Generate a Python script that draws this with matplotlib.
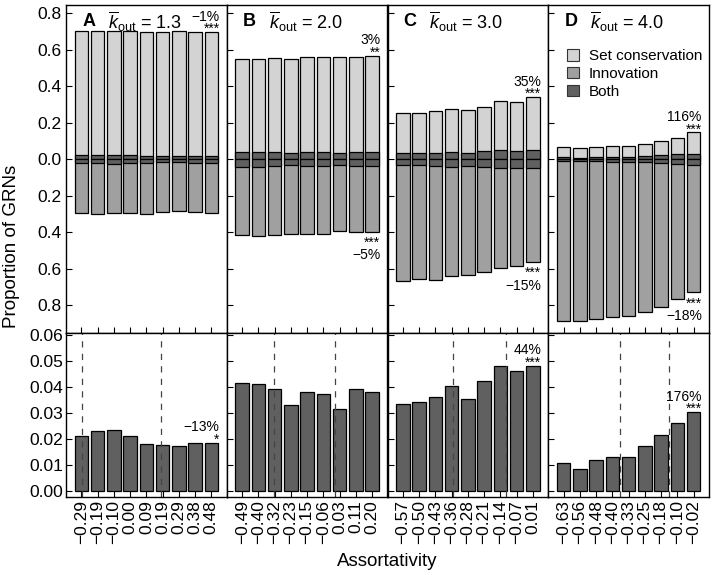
import numpy as np
import matplotlib.pyplot as plt
from matplotlib.patches import Patch

plt.rcParams['font.family'] = ['Liberation Sans', 'DejaVu Sans']
plt.rcParams['mathtext.fontset'] = 'custom'
plt.rcParams['mathtext.rm'] = 'Liberation Sans'
plt.rcParams['mathtext.it'] = 'Liberation Sans:italic'

panels = ["A", "B", "C", "D"]
kout = ["1.3", "2.0", "3.0", "4.0"]

assort = [
    ["\u22120.29", "\u22120.19", "\u22120.10", "0.00", "0.09", "0.19", "0.29", "0.38", "0.48"],
    ["\u22120.49", "\u22120.40", "\u22120.32", "\u22120.23", "\u22120.15", "\u22120.06", "0.03", "0.11", "0.20"],
    ["\u22120.57", "\u22120.50", "\u22120.43", "\u22120.36", "\u22120.28", "\u22120.21", "\u22120.14", "\u22120.07", "0.01"],
    ["\u22120.63", "\u22120.56", "\u22120.48", "\u22120.40", "\u22120.33", "\u22120.25", "\u22120.18", "\u22120.10", "\u22120.02"],
]

# proportion of GRNs with set conservation (upwards)
conservation = [
    [0.704, 0.703, 0.703, 0.701, 0.697, 0.697, 0.700, 0.697, 0.697],
    [0.550, 0.551, 0.553, 0.550, 0.559, 0.559, 0.562, 0.561, 0.568],
    [0.254, 0.254, 0.263, 0.274, 0.272, 0.287, 0.319, 0.316, 0.341],
    [0.069, 0.060, 0.067, 0.073, 0.073, 0.082, 0.099, 0.118, 0.148],
]
# proportion of GRNs with innovation (downwards)
innovation = [
    [0.293, 0.298, 0.296, 0.296, 0.298, 0.290, 0.285, 0.289, 0.293],
    [0.416, 0.420, 0.413, 0.411, 0.408, 0.408, 0.393, 0.400, 0.398],
    [0.667, 0.658, 0.661, 0.639, 0.632, 0.619, 0.594, 0.583, 0.563],
    [0.884, 0.884, 0.875, 0.862, 0.859, 0.835, 0.810, 0.764, 0.729],
]
# proportion of GRNs with both
both = [
    [0.0214, 0.0232, 0.0235, 0.0211, 0.0181, 0.0177, 0.0173, 0.0187, 0.0187],
    [0.0417, 0.0412, 0.0391, 0.0330, 0.0383, 0.0372, 0.0315, 0.0393, 0.0383],
    [0.0337, 0.0342, 0.0364, 0.0403, 0.0356, 0.0424, 0.0481, 0.0462, 0.0483],
    [0.0110, 0.0086, 0.0119, 0.0130, 0.0130, 0.0173, 0.0217, 0.0262, 0.0305],
]

cons_note = ["\u22121%\n***", "3%\n**", "35%\n***", "116%\n***"]
innov_note = [None, "***\n\u22125%", "***\n\u221215%", "***\n\u221218%"]
both_note = ["\u221213%\n*", None, "44%\n***", "176%\n***"]

# dashed reference lines (in bar index units)
dashed = [[0.04, 4.875], [1.97, 5.72], [3.11, 6.36], [3.48, 6.48]]

c_light = "#d3d3d3"
c_mid = "#a0a0a0"
c_dark = "#606060"

fig = plt.figure(figsize=(7.14, 5.75), dpi=100)

left = 66 / 714
colw = (709 - 66) / 714 / 4
top_b = 1 - 333 / 575
top_h = (333 - 5) / 575
bot_b = 1 - 497 / 575
bot_h = (497 - 333) / 575

x = np.arange(9)
w = 0.84
ew = 0.9

for i in range(4):
    ax = fig.add_axes([left + i * colw, top_b, colw, top_h])
    axb = fig.add_axes([left + i * colw, bot_b, colw, bot_h])

    cons = np.array(conservation[i])
    inn = np.array(innovation[i])
    bo = np.array(both[i])

    ax.bar(x, cons, w, color=c_light, edgecolor="black", linewidth=ew)
    ax.bar(x, -inn, w, color=c_mid, edgecolor="black", linewidth=ew)
    ax.bar(x, bo, w, color=c_dark, edgecolor="black", linewidth=ew)
    ax.bar(x, -bo, w, color=c_dark, edgecolor="black", linewidth=ew)

    ax.set_xlim(-0.95, 8.95)
    ax.set_ylim(-0.952, 0.845)
    yt = np.arange(-0.8, 0.81, 0.2)
    ax.set_yticks(yt)
    if i == 0:
        ax.set_yticklabels(["%.1f" % abs(v) for v in yt])
    else:
        ax.set_yticklabels([])
    ax.set_xticks(x)
    ax.set_xticklabels([])
    ax.tick_params(direction="in", length=4, labelsize=12.5, width=0.8)

    ax.text(0.1, 0.975, panels[i], transform=ax.transAxes, fontsize=13,
            fontweight="bold", va="top", ha="left")
    ax.text(0.26, 0.985, r"$\overline{k}_\mathrm{out}$ = " + kout[i],
            transform=ax.transAxes, fontsize=13, va="top", ha="left")

    if cons_note[i]:
        ax.annotate(cons_note[i], xy=(8 + w / 2, cons[-1]), xytext=(1, -3),
                    textcoords="offset points", ha="right", va="bottom",
                    fontsize=10, linespacing=0.85, multialignment="right")
    if innov_note[i]:
        ax.annotate(innov_note[i], xy=(8 + w / 2, -inn[-1]), xytext=(1, -3),
                    textcoords="offset points", ha="right", va="top",
                    fontsize=10, linespacing=0.85, multialignment="right")

    if i == 3:
        handles = [Patch(facecolor=c_light, edgecolor="#333333", linewidth=0.8),
                   Patch(facecolor=c_mid, edgecolor="#333333", linewidth=0.8),
                   Patch(facecolor=c_dark, edgecolor="#333333", linewidth=0.8)]
        ax.legend(handles, ["Set conservation", "Innovation", "Both"],
                  loc="upper left", bbox_to_anchor=(0.08, 0.885), frameon=False,
                  fontsize=11, handlelength=0.8, handleheight=0.8,
                  handletextpad=0.6, labelspacing=0.25, borderaxespad=0)

    axb.bar(x, bo, w, color=c_dark, edgecolor="black", linewidth=ew)
    for d in dashed[i]:
        axb.axvline(d, color="#444444", linestyle=(0, (5, 5)), linewidth=0.9)
    axb.set_xlim(-0.95, 8.95)
    axb.set_ylim(-0.0022, 0.0608)
    axb.set_yticks(np.arange(0, 0.061, 0.01))
    if i == 0:
        axb.set_yticklabels(["%.2f" % v for v in np.arange(0, 0.061, 0.01)])
    else:
        axb.set_yticklabels([])
    axb.set_xticks(x)
    axb.set_xticklabels(assort[i], rotation=90)
    axb.tick_params(direction="in", length=4, labelsize=12.5, width=0.8, pad=2)

    if both_note[i]:
        axb.annotate(both_note[i], xy=(8 + w / 2, bo[-1]), xytext=(1, -3),
                     textcoords="offset points", ha="right", va="bottom",
                     fontsize=10, linespacing=0.85, multialignment="right")

    for a in (ax, axb):
        for s in a.spines.values():
            s.set_linewidth(1.0)

fig.text(0.543, 0.024, "Assortativity", ha="center", va="center", fontsize=13.5)
fig.text(0.016, 0.572, "Proportion of GRNs", ha="center", va="center",
         rotation=90, fontsize=13.5)

fig.savefig("out.png", dpi=100)
